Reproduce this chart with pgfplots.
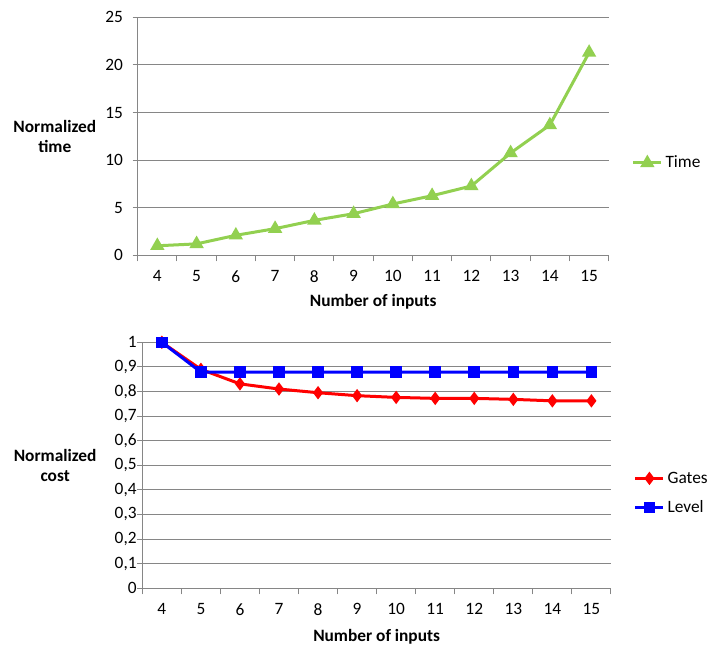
\documentclass[border=0pt]{standalone}
\usepackage{fontspec}
\setmainfont{Carlito}
\usepackage{pgfplots}
\pgfplotsset{compat=1.18}
\definecolor{tgreen}{HTML}{92D050}
\definecolor{gridgray}{HTML}{868686}
\pgfplotsset{
  myax/.style={
    axis x line*=bottom, axis y line*=left,
    axis line style={gridgray, line width=0.75pt, -},
    xmin=3.5, xmax=15.5,
    xtick={4,...,15},
    minor xtick={3.5,4.5,...,15.5},
    tick align=outside,
    major x tick style={draw=none},
    minor x tick style={gridgray, line width=0.75pt},
    y tick style={gridgray, line width=0.75pt},
    major tick length=3.75pt,
    minor tick length=4.5pt,
    ymajorgrids,
    grid style={gridgray, line width=0.75pt},
    /pgf/number format/assume math mode=true,
    tick label style={font=\fontsize{13}{15}\selectfont, text=black},
    xticklabel style={yshift=-4pt},
    xlabel style={font=\bfseries\fontsize{13}{15}\selectfont},
    ylabel style={font=\bfseries\fontsize{13}{15}\selectfont, rotate=-90, align=center, anchor=center},
    legend style={draw=none, fill=none, anchor=west, font=\fontsize{13}{15}\selectfont, row sep=6pt},
    legend cell align=left,
    legend image code/.code={\draw[mark repeat=2,mark phase=2,#1] plot coordinates {(0pt,0pt)(10.5pt,0pt)(21pt,0pt)};},
  }
}
\begin{document}
\begin{tikzpicture}[font=\fontsize{13}{15}\selectfont]
\path[use as bounding box] (-103.3pt,-294.5pt) rectangle (427pt,191.5pt);
\begin{axis}[myax,
  width=353.3pt, height=178.5pt, scale only axis,
  ymin=0, ymax=25, ytick={0,5,...,25},
  yticklabel style={xshift=-3.75pt},
  xlabel={Number of inputs},
  ylabel={Normalized\\time},
  xlabel style={at={(axis description cs:0.5,0)}, anchor=center, yshift=-35pt},
  ylabel style={at={(axis description cs:-0.176,0.5)}},
  legend style={at={(axis description cs:1.04,0.388)}},
]
\addplot[tgreen, line width=2.25pt, mark=triangle*, mark size=4pt, mark options={solid}] coordinates {
(4,1.0) (5,1.2) (6,2.1) (7,2.8) (8,3.67) (9,4.37) (10,5.39) (11,6.26) (12,7.28) (13,10.75) (14,13.69) (15,21.3)};
\addlegendentry{Time}
\end{axis}
\begin{axis}[myax,
  at={(3.45pt,-249.75pt)}, anchor=south west,
  width=351.5pt, height=184.5pt, scale only axis,
  ymin=0, ymax=1, ytick={0,0.1,...,1.01},
  yticklabel style={xshift=3pt},
  /pgf/number format/use comma,
  xlabel={Number of inputs},
  ylabel={Normalized\\cost},
  xlabel style={at={(axis description cs:0.5,0)}, anchor=center, yshift=-36.5pt},
  ylabel style={at={(axis description cs:-0.186,0.5)}},
  legend style={at={(axis description cs:1.04,0.387)}, row sep=7.5pt},
]
\addplot[red, line width=2.25pt, mark=diamond*, mark size=3.2pt, mark options={solid}] coordinates {
(4,1.0) (5,0.89) (6,0.831) (7,0.81) (8,0.795) (9,0.783) (10,0.776) (11,0.772) (12,0.772) (13,0.768) (14,0.762) (15,0.762)};
\addlegendentry{Gates}
\addplot[blue, line width=2.25pt, mark=square*, mark size=3.2pt, mark options={solid}] coordinates {
(4,1.0) (5,0.879) (6,0.879) (7,0.879) (8,0.879) (9,0.879) (10,0.879) (11,0.879) (12,0.879) (13,0.879) (14,0.879) (15,0.879)};
\addlegendentry{Level}
\end{axis}
\end{tikzpicture}
\end{document}
